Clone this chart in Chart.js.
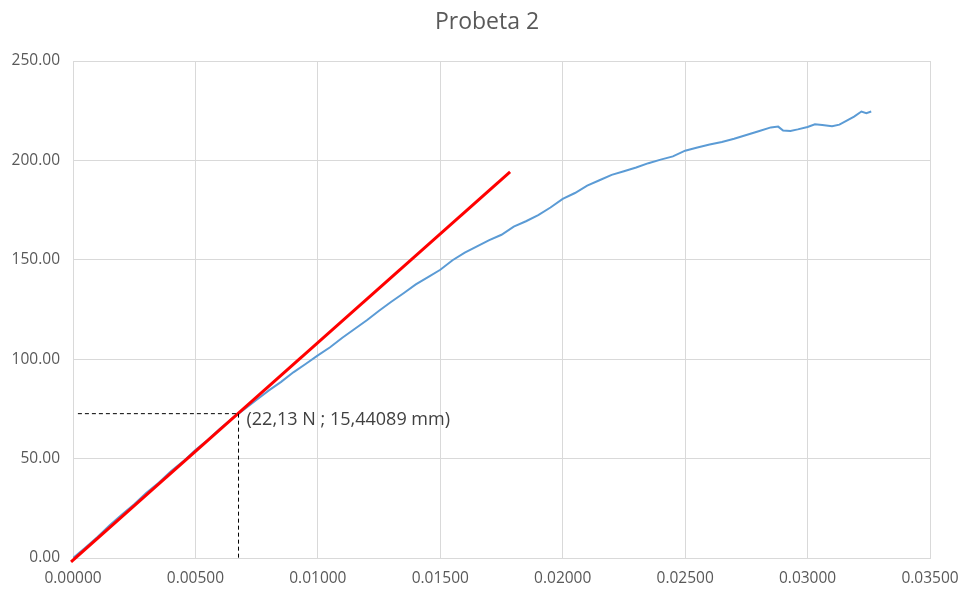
<!DOCTYPE html>
<html>
<head>
<meta charset="utf-8">
<script src="https://cdn.jsdelivr.net/npm/chart.js@4.4.1/dist/chart.umd.min.js"></script>
<style>
html,body{margin:0;padding:0;background:#fff;}
#wrap{width:963px;height:589px;position:relative;}
</style>
</head>
<body>
<div id="wrap"><canvas id="c" width="963" height="589"></canvas></div>
<script>
const chartTitle = "Probeta 2";
const annotationText = "(22,13 N ; 15,44089 mm)";
const xTicks = [0, 0.005, 0.01, 0.015, 0.02, 0.025, 0.03, 0.035];
const yTicks = [0, 50, 100, 150, 200, 250];

// blue measured curve (deformation, force)
const curveX = [0,0.0005,0.0010,0.0015,0.0020,0.0025,0.0030,0.0035,0.0040,0.0045,0.0050,0.0055,0.0060,0.0065,0.0070,0.0075,0.0080,0.0085,0.0090,0.0095,0.0100,0.0105,0.0110,0.0115,0.0120,0.0125,0.0130,0.0135,0.0140,0.0145,0.0150,0.0155,0.0160,0.0165,0.0170,0.0175,0.0180,0.0185,0.0190,0.0195,0.0200,0.0205,0.0210,0.0215,0.0220,0.0225,0.0230,0.0235,0.0240,0.0245,0.0250,0.0255,0.0260,0.0265,0.0270,0.0275,0.0280,0.0285,0.0288,0.0290,0.0293,0.0296,0.0300,0.0303,0.0306,0.0310,0.0313,0.0316,0.0319,0.0322,0.0324,0.0326];
const curveY = [0,5.2,10.6,16.5,21.9,27.0,32.8,37.9,43.6,48.6,54.3,59.4,65.0,70.2,74.8,79.6,84.3,88.6,93.4,97.6,101.9,106.0,110.8,115.2,119.6,124.4,128.9,133.2,137.6,141.3,145.0,149.8,153.6,156.8,159.9,162.6,166.7,169.4,172.5,176.3,180.6,183.6,187.3,190.0,192.7,194.5,196.4,198.6,200.4,202.0,204.9,206.5,208.0,209.3,210.9,212.8,214.7,216.6,217.0,215.0,214.8,215.6,216.8,218.2,217.8,217.2,218.0,220.0,222.0,224.6,223.8,224.6];

// red linear fit line
const fitX = [-0.00008, 0.01785];
const fitY = [-2, 194.2];

// dashed reference lines
const hDashX = [0.0002, 0.00676];
const hDashY = [72.6, 72.6];
const vDashX = [0.00676, 0.00676];
const vDashY = [72.6, 0];

const toPts = (xs, ys) => xs.map((x, i) => ({x: x, y: ys[i]}));
const FONT = "'Open Sans', sans-serif";
const GREY = "#595959";

const extraText = {
  id: 'extraText',
  afterDatasetsDraw(chart) {
    const ctx = chart.ctx;
    const xs = chart.scales.x, ys = chart.scales.y;
    ctx.save();
    ctx.fillStyle = "#404040";
    ctx.font = "18px " + FONT;
    ctx.textBaseline = "middle";
    ctx.textAlign = "left";
    ctx.fillText(annotationText, xs.getPixelForValue(vDashX[0]) + 8, ys.getPixelForValue(hDashY[0]) + 6);
    ctx.fillStyle = GREY;
    ctx.font = "23px " + FONT;
    ctx.textAlign = "center";
    ctx.fillText(chartTitle, 487, 22);
    ctx.restore();
  }
};

new Chart(document.getElementById('c'), {
  type: 'scatter',
  data: {
    datasets: [
      {data: toPts(curveX, curveY), showLine: true, borderColor: '#5B9BD5', borderWidth: 2, pointRadius: 0, tension: 0, order: 3},
      {data: toPts(fitX, fitY), showLine: true, borderColor: '#FF0000', borderWidth: 3, pointRadius: 0, clip: false, order: 2},
      {data: toPts(hDashX, hDashY), showLine: true, borderColor: '#000000', borderWidth: 1, borderDash: [4, 3], pointRadius: 0, order: 1},
      {data: toPts(vDashX, vDashY), showLine: true, borderColor: '#000000', borderWidth: 1, borderDash: [4, 3], pointRadius: 0, clip: false, order: 1}
    ]
  },
  options: {
    responsive: false,
    animation: false,
    layout: {padding: {top: 61, right: 33, left: 0, bottom: 0}},
    plugins: {legend: {display: false}, tooltip: {enabled: false}, title: {display: false}},
    scales: {
      x: {
        type: 'linear', min: 0, max: 0.035,
        afterBuildTicks: s => { s.ticks = xTicks.map(v => ({value: v})); },
        afterFit: s => { s.height = 31; s.paddingLeft = 0; s.paddingRight = 0; },
        grid: {color: '#D9D9D9', drawTicks: false},
        border: {color: '#D9D9D9'},
        ticks: {padding: 11, color: GREY, font: {family: FONT, size: 15.5}, maxRotation: 0, callback: v => Number(v).toFixed(5)}
      },
      y: {
        type: 'linear', min: 0, max: 250,
        afterBuildTicks: s => { s.ticks = yTicks.map(v => ({value: v})); },
        afterFit: s => { s.width = 73; s.paddingTop = 0; s.paddingBottom = 0; },
        grid: {color: '#D9D9D9', drawTicks: false},
        border: {color: '#D9D9D9'},
        ticks: {padding: 13, color: GREY, font: {family: FONT, size: 15.5}, callback: v => Number(v).toFixed(2)}
      }
    }
  },
  plugins: [extraText]
});
</script>
</body>
</html>
